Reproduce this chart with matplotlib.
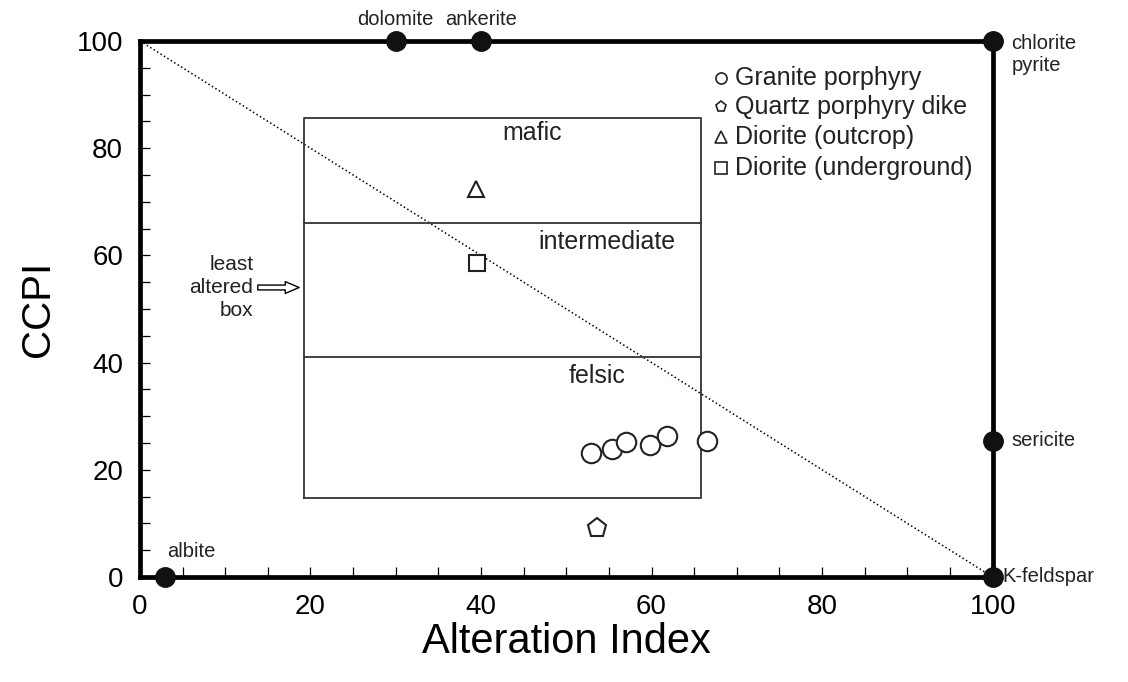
import matplotlib.pyplot as plt
from matplotlib.ticker import MultipleLocator

plt.rcParams['font.family'] = ['Liberation Sans', 'DejaVu Sans']

# sample data
granite_ai = [52.9, 55.4, 57.0, 59.8, 61.8, 66.5]
granite_ccpi = [23.1, 23.9, 25.2, 24.6, 26.3, 25.4]
quartz_ai = [53.6]
quartz_ccpi = [9.1]
dior_out_ai = [39.4]
dior_out_ccpi = [72.4]
dior_und_ai = [39.5]
dior_und_ccpi = [58.6]

# mineral end members
mineral_names = ['albite', 'dolomite', 'ankerite', 'chlorite\npyrite', 'sericite', 'K-feldspar']
mineral_ai = [3, 30, 40, 100, 100, 100]
mineral_ccpi = [0, 100, 100, 100, 25.4, 0]

# least altered box
box_x = [19.3, 65.8]
box_y = [14.8, 85.6]
box_dividers = [41, 66]

fig = plt.figure(figsize=(11.28, 6.82), dpi=100)
ax = fig.add_axes([0.124, 0.154, 0.756, 0.786])
ax.set_xlim(0, 100)
ax.set_ylim(0, 100)

# diagonal reference line
ax.plot([0, 100], [100, 0], color='black', linestyle=':', linewidth=1.1)

# box
ax.plot([box_x[0], box_x[1], box_x[1], box_x[0], box_x[0]],
        [box_y[0], box_y[0], box_y[1], box_y[1], box_y[0]], color='#333333', linewidth=1.3)
for yd in box_dividers:
    ax.plot(box_x, [yd, yd], color='#333333', linewidth=1.3)
box_font = dict(fontsize=18, ha='center', va='center', color='#222222')
ax.text(46, 82.8, 'mafic', **box_font)
ax.text(54.8, 62.5, 'intermediate', **box_font)
ax.text(53.6, 37.5, 'felsic', **box_font)
ax.text(13.3, 54, 'least\naltered\nbox', fontsize=15, ha='right', va='center', linespacing=1.25,
        color='#222222')
ax.annotate('', xy=(19.0, 54), xytext=(13.5, 54),
            arrowprops=dict(arrowstyle='simple,head_length=1.0,head_width=0.85,tail_width=0.35',
                            fc='white', ec='black', lw=1.0))

# samples
mk = dict(mfc='white', mec='#222222', mew=1.5, linestyle='none')
ax.plot(granite_ai, granite_ccpi, marker='o', ms=14, **mk)
ax.plot(quartz_ai, quartz_ccpi, marker='p', ms=14, **mk)
ax.plot(dior_out_ai, dior_out_ccpi, marker='^', ms=12, **mk)
ax.plot(dior_und_ai, dior_und_ccpi, marker='s', ms=12, **mk)

# minerals
ax.plot(mineral_ai, mineral_ccpi, marker='o', ms=14, color='#111111', linestyle='none',
        clip_on=False, zorder=5)
min_font = dict(fontsize=14.5, color='#222222')
ax.text(mineral_ai[0] + 3, mineral_ccpi[0] + 4.8, mineral_names[0], ha='center', va='center', **min_font)
ax.text(mineral_ai[1], mineral_ccpi[1] + 4, mineral_names[1], ha='center', va='center', clip_on=False, **min_font)
ax.text(mineral_ai[2], mineral_ccpi[2] + 4, mineral_names[2], ha='center', va='center', clip_on=False, **min_font)
ax.text(102.2, mineral_ccpi[3] - 2.6, mineral_names[3], ha='left', va='center', linespacing=1.2, **min_font)
ax.text(102.2, mineral_ccpi[4], mineral_names[4], ha='left', va='center', **min_font)
ax.text(101.2, mineral_ccpi[5], mineral_names[5], ha='left', va='center', **min_font)

# legend drawn by hand
leg_items = [('o', 'Granite porphyry'), ('p', 'Quartz porphyry dike'),
             ('^', 'Diorite (outcrop)'), ('s', 'Diorite (underground)')]
leg_y = [93.1, 87.7, 82.1, 76.3]
for (m, lab), yy in zip(leg_items, leg_y):
    ax.plot([68.2], [yy], marker=m, ms=8, mfc='white', mec='#222222', mew=1.2, linestyle='none')
    ax.text(69.8, yy, lab, fontsize=18, ha='left', va='center', color='#222222', zorder=1,
            clip_on=True)

# axes styling
for s in ax.spines.values():
    s.set_linewidth(3.4)
    s.set_zorder(4)
ax.xaxis.set_major_locator(MultipleLocator(20))
ax.xaxis.set_minor_locator(MultipleLocator(5))
ax.yaxis.set_major_locator(MultipleLocator(20))
ax.yaxis.set_minor_locator(MultipleLocator(5))
ax.tick_params(which='both', direction='in', top=False, right=False)
ax.tick_params(which='major', length=7, width=0.9, labelsize=20, pad=12)
ax.tick_params(which='minor', length=7, width=0.9)
ax.set_xlabel('Alteration Index', fontsize=30, labelpad=2)
ax.set_ylabel('CCPI', fontsize=29, labelpad=14)

fig.savefig('out.png', dpi=100)
